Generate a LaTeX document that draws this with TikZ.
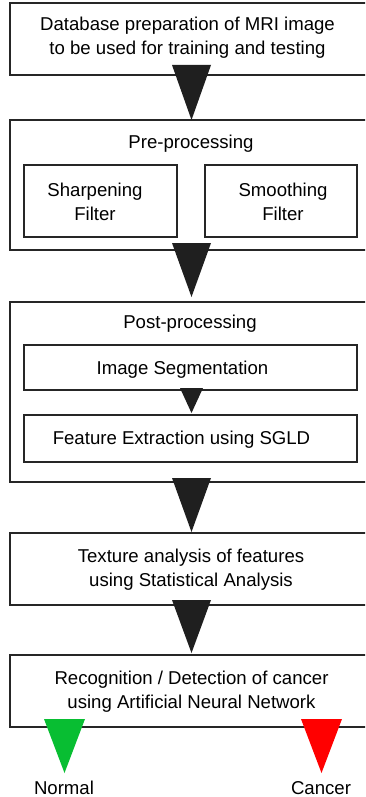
\documentclass[tikz,border=0pt]{standalone}
\usepackage{fontspec}
\setmainfont{Liberation Sans}
\usetikzlibrary{calc}
\definecolor{okgreen}{RGB}{8,190,50}
\definecolor{badred}{RGB}{255,0,0}
\begin{document}
\begin{tikzpicture}[x=1pt,y=-1pt,
  every node/.style={font=\fontsize{18.6}{24}\selectfont, align=center, inner sep=0pt},
  thinbox/.style={draw=black!85, line width=1.3pt, rectangle},
  thickbox/.style={draw=black!85, line width=2.6pt, rectangle},
  tri/.style={fill=black!88}]
\useasboundingbox (0,0) rectangle (365,797);
\begin{scope}
\clip (0,0) rectangle (365,797);
% main boxes
\node[thinbox, minimum width=360pt, minimum height=72pt] (b1) at (190,39) {};
\node[thickbox, minimum width=360pt, minimum height=130pt] (b2) at (190,185) {};
\node[thinbox, minimum width=153pt, minimum height=72pt] (sharp) at (100.5,201) {};
\node[thinbox, minimum width=152pt, minimum height=72pt] (smooth) at (281,201) {};
\node[thickbox, minimum width=360pt, minimum height=180pt] (b3) at (190,392) {};
\node[thinbox, minimum width=333pt, minimum height=45pt] (seg) at (190.5,367.5) {};
\node[thinbox, minimum width=333pt, minimum height=47pt] (feat) at (190.5,438.5) {};
\node[thinbox, minimum width=360pt, minimum height=72pt] (b4) at (190,569) {};
\node[thinbox, minimum width=360pt, minimum height=72pt] (b5) at (190,691) {};
\end{scope}
% texts
\node (b1t) at (187.5,38) {Database preparation of MRI image\\to be used for training and testing};
\node (pre) at (191,143.5) {Pre-processing};
\node (sharpt) at (95,202) {Sharpening\\Filter};
\node (smootht) at (283,202) {Smoothing\\Filter};
\node (post) at (190,323.5) {Post-processing};
\node (segt) at (182.5,369.5) {Image Segmentation};
\node (featt) at (181.5,439.5) {Feature Extraction using SGLD};
\node (b4t) at (191,569.5) {Texture analysis of features\\using Statistical Analysis};
\node (b5t) at (191.5,691.5) {Recognition / Detection of cancer\\using Artificial Neural Network};
\node (normal) at (64,788) {Normal};
\node (cancer) at (321,788) {Cancer};
% arrow tips
\coordinate (t1) at (191.5,120);
\coordinate (t2) at (191.5,297);
\coordinate (t3) at (191.5,413);
\coordinate (t4) at (191.5,532);
\coordinate (t5) at (191.5,653);
\coordinate (tn) at (64.5,773);
\coordinate (tc) at (321.5,773);
\fill[tri] (172,65) -- (211,65) -- (t1) -- cycle;
\fill[tri] (172,243) -- (211,243) -- (t2) -- cycle;
\fill[tri] (180,388) -- (203,388) -- (t3) -- cycle;
\fill[tri] (172,478) -- (211,478) -- (t4) -- cycle;
\fill[tri] (172,600) -- (211,600) -- (t5) -- cycle;
\fill[okgreen] (44,719) -- (85,719) -- (tn) -- cycle;
\fill[badred] (301,719) -- (342,719) -- (tc) -- cycle;
\end{tikzpicture}
\end{document}
